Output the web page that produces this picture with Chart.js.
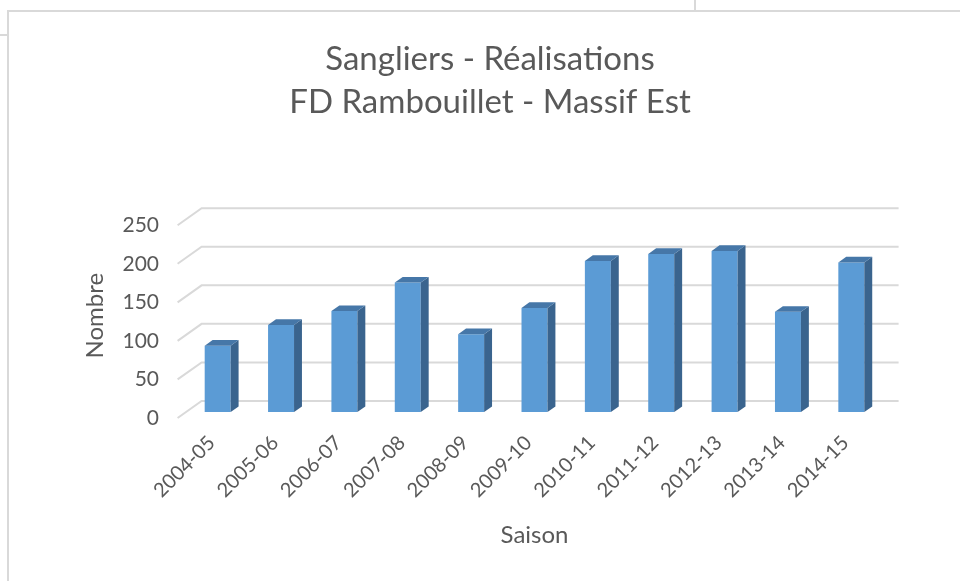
<!DOCTYPE html>
<html>
<head>
<meta charset="utf-8">
<script src="https://cdn.jsdelivr.net/npm/chart.js@4/dist/chart.umd.min.js"></script>
<style>
  body { margin: 0; background: #fff; }
  #wrap { position: relative; width: 960px; height: 581px; overflow: hidden; }
  #chartSangliers { position: absolute; left: 0; top: 0; }
  /* cadre du graphique dans la feuille */
  .cadre { position: absolute; left: 7px; top: 10px; right: -2px; bottom: -2px; border-left: 2px solid #d9d9d9; border-top: 2px solid #d9d9d9; }
  .trait-h { position: absolute; left: 0; top: 34px; width: 8px; height: 2px; background: #d9d9d9; }
  .trait-v { position: absolute; left: 694px; top: 0; width: 2px; height: 11px; background: #d9d9d9; }
</style>
</head>
<body>
<div id="wrap">
  <div class="cadre"></div>
  <div class="trait-h"></div>
  <div class="trait-v"></div>
  <canvas id="chartSangliers" width="960" height="581"></canvas>
</div>
<script>
// donnees
const saisons = ['2004-05', '2005-06', '2006-07', '2007-08', '2008-09', '2009-10',
                 '2010-11', '2011-12', '2012-13', '2013-14', '2014-15'];
const realisations = [86, 113, 131, 168, 101, 135, 196, 205, 209, 130, 194];
const graduations = [0, 50, 100, 150, 200, 250];
const titre = ['Sangliers - Réalisations', 'FD Rambouillet - Massif Est'];

// effet 3D (profondeur de la scene, position des barres dans la profondeur)
const profX = 24, profY = -17;
const posBarre = 0.35;
const epaisseur = 0.33;

const gris = '#595959';
const police = 'Lato, "Open Sans", sans-serif';

const effet3d = {
    id: 'effet3d',
    beforeDatasetsDraw(chart) {
        const ctx = chart.ctx;
        const area = chart.chartArea;
        const y = chart.scales.y;
        // murs : avant / fond
        const fx = -profX * posBarre, fy = -profY * posBarre;
        const bx = profX * (1 - posBarre), by = profY * (1 - posBarre);
        ctx.save();
        ctx.strokeStyle = '#d9d9d9';
        ctx.lineWidth = 2;
        y.ticks.forEach(t => {
            const py = y.getPixelForValue(t.value);
            ctx.beginPath();
            ctx.moveTo(area.left + fx, py + fy);
            ctx.lineTo(area.left + bx, py + by);
            ctx.lineTo(area.right + bx, py + by);
            ctx.stroke();
        });
        ctx.restore();
    },
    afterDatasetsDraw(chart) {
        const ctx = chart.ctx;
        const meta = chart.getDatasetMeta(0);
        const dx = profX * epaisseur, dy = profY * epaisseur;
        ctx.save();
        meta.data.forEach(bar => {
            const p = bar.getProps(['x', 'y', 'base', 'width'], true);
            const l = p.x - p.width / 2, r = p.x + p.width / 2;
            // cote
            ctx.fillStyle = '#3a648e';
            ctx.beginPath();
            ctx.moveTo(r, p.y);
            ctx.lineTo(r + dx, p.y + dy);
            ctx.lineTo(r + dx, p.base + dy);
            ctx.lineTo(r, p.base);
            ctx.closePath();
            ctx.fill();
            // dessus
            ctx.fillStyle = '#4677a8';
            ctx.beginPath();
            ctx.moveTo(l, p.y);
            ctx.lineTo(l + dx, p.y + dy);
            ctx.lineTo(r + dx, p.y + dy);
            ctx.lineTo(r, p.y);
            ctx.closePath();
            ctx.fill();
        });
        ctx.restore();
    }
};

const data = {
    labels: saisons,
    datasets: [{
        label: 'Réalisations',
        data: realisations,
        backgroundColor: '#5b9bd5',
        borderWidth: 0,
        categoryPercentage: 1,
        barPercentage: 0.41
    }]
};

const options = {
    responsive: false,
    animation: false,
    layout: { padding: { left: 20, right: 0, top: 0, bottom: 0 } },
    plugins: {
        legend: { display: false },
        tooltip: { enabled: false },
        title: {
            display: true,
            text: titre,
            color: gris,
            font: { family: police, size: 33, weight: 'normal', lineHeight: 1.33 },
            padding: { top: 37, bottom: 94.5 }
        }
    },
    scales: {
        x: {
            grid: { display: false, drawTicks: false },
            border: { display: false },
            ticks: {
                color: gris,
                font: { family: police, size: 20 },
                minRotation: 45,
                maxRotation: 45,
                padding: 19,
                labelOffset: -6
            },
            title: {
                display: true,
                text: 'Saison',
                color: gris,
                font: { family: police, size: 24 },
                padding: { top: 0, bottom: 31 }
            },
            afterFit(scale) { scale.height = 169; }
        },
        y: {
            min: 0,
            max: 250,
            grid: { display: false, drawTicks: false },
            border: { display: false },
            afterBuildTicks(scale) { scale.ticks = graduations.map(v => ({ value: v })); },
            ticks: {
                color: gris,
                font: { family: police, size: 21 },
                padding: 27,
                labelOffset: 6
            },
            title: {
                display: true,
                text: 'Nombre',
                color: gris,
                font: { family: police, size: 24 },
                padding: { top: 61, bottom: 0 }
            },
            afterFit(scale) { scale.width = 166; }
        },
        // axe vide a droite : reserve la marge de droite sans decaler le titre
        marge: {
            position: 'right',
            grid: { display: false, drawTicks: false },
            border: { display: false },
            ticks: { display: false },
            afterFit(scale) { scale.width = 77; }
        }
    }
};

const chart = new Chart(document.getElementById('chartSangliers').getContext('2d'), {
    type: 'bar', data: data, options: options, plugins: [effet3d]
});
</script>
</body>
</html>
